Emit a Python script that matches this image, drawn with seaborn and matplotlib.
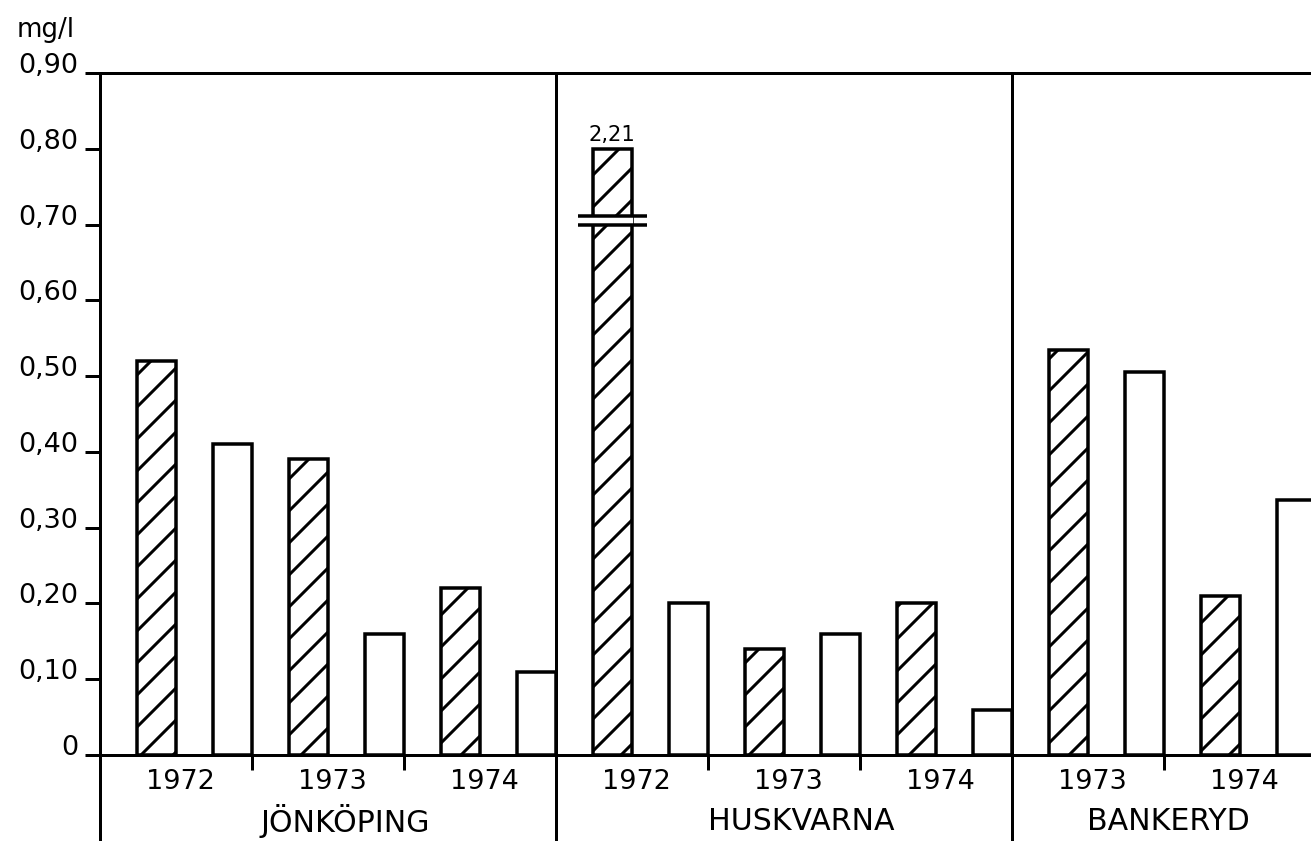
import numpy as np
import pandas as pd
import matplotlib
matplotlib.use("Agg")
import matplotlib.pyplot as plt
import seaborn as sns

# ---------------- data ----------------
towns = ["JÖNKÖPING", "HUSKVARNA", "BANKERYD"]
town_years = [["1972", "1973", "1974"], ["1972", "1973", "1974"], ["1973", "1974"]]
hatched_vals = [[0.52, 0.39, 0.22], [2.21, 0.14, 0.20], [0.535, 0.21]]
open_vals = [[0.41, 0.16, 0.11], [0.20, 0.16, 0.06], [0.505, 0.337]]
y_ticks = [0.0, 0.1, 0.2, 0.3, 0.4, 0.5, 0.6, 0.7, 0.8, 0.9]
y_tick_labels = ["0", "0,10", "0,20", "0,30", "0,40", "0,50", "0,60", "0,70", "0,80", "0,90"]
y_unit = "mg/l"
y_top = 0.90
bar_cap = 0.80          # bars above this are drawn broken
break_band = (0.700, 0.711)

# ---------------- layout ----------------
PANEL = 6          # slots per town panel
OFFSET = 0.74      # bar centre offset inside a slot
BAR_W = 0.51
DPI = 192
W, H = 1311, 841
PX = 72.0 / DPI    # points per pixel

rows = []
for t, (town, years) in enumerate(zip(towns, town_years)):
    for k, yr in enumerate(years):
        for s, (series, vals) in enumerate([("hatched", hatched_vals), ("open", open_vals)]):
            v = vals[t][k]
            rows.append(dict(town=town, year=yr, series=series, value=v,
                             shown=min(v, bar_cap),
                             pos=t * PANEL + 2 * k + s + OFFSET))
df = pd.DataFrame(rows)

sns.set_style("ticks")
plt.rcParams["font.family"] = ["DejaVu Sans"]
plt.rcParams["hatch.linewidth"] = 3 * PX
plt.rcParams["hatch.color"] = "black"
plt.rcParams["text.color"] = "black"
plt.rcParams["ytick.color"] = "black"
plt.rcParams["ytick.labelcolor"] = "black"

fig = plt.figure(figsize=(W / DPI, H / DPI), dpi=DPI)
ax = fig.add_axes([100 / W, 1 - 755 / H, 1211 / W, 682 / H])

sns.barplot(data=df, x="pos", y="shown", hue="series", hue_order=["hatched", "open"],
            palette={"hatched": "white", "open": "white"}, saturation=1,
            native_scale=True, dodge=False, width=BAR_W, errorbar=None,
            edgecolor="black", linewidth=3.5 * PX, legend=False, ax=ax)

# hatch the first bar of every pair
for p in ax.patches:
    c = p.get_x() + p.get_width() / 2
    if int(round(c - OFFSET)) % 2 == 0:
        p.set_hatch("//")

ax.set_xlim(0, 1211 / 76)
ax.set_ylim(0, y_top)
ax.set_xlabel("")
ax.set_ylabel("")
ax.set_xticks([])
ax.set_yticks(y_ticks)
ax.set_yticklabels(y_tick_labels)
ax.tick_params(axis="y", length=15 * PX, width=3 * PX, pad=7 * PX,
               labelsize=27 * PX, direction="out", colors="black")
for lab in ax.get_yticklabels():
    lab.set_va("baseline")

for side in ["left", "top", "bottom"]:
    ax.spines[side].set_visible(True)
    ax.spines[side].set_linewidth(3 * PX)
    ax.spines[side].set_color("black")
ax.spines["right"].set_visible(False)

xt = ax.get_xaxis_transform()
lw = 3 * PX
# panel dividers running down through the label area
for t in range(len(towns)):
    x0 = t * PANEL
    ax.plot([x0, x0], [1, -0.2], transform=xt, color="black", lw=lw,
            clip_on=False, solid_capstyle="butt", zorder=5)
    years = town_years[t]
    for k in range(len(years) - 1):
        xs = x0 + 2 * (k + 1)
        ax.plot([xs, xs], [0, -15 / 682], transform=xt, color="black", lw=lw,
                clip_on=False, solid_capstyle="butt")
    ypos = [x0 + 2 * k + OFFSET + 0.32 for k in range(len(years))]
    for k, yr in enumerate(years):
        ax.text(ypos[k], -27 / 682, yr, transform=xt, ha="center", va="center",
                fontsize=27 * PX, color="black")
    cx = np.mean(ypos) + (0.17 if len(years) == 3 else 0.0)
    ax.text(cx, -66 / 682, towns[t], transform=xt, ha="center", va="center",
            fontsize=30 * PX, color="black")

# broken bar(s)
for _, r in df[df["value"] > bar_cap].iterrows():
    x = r["pos"]
    lo, hi = break_band
    ax.fill_between([x - BAR_W / 2 - 0.02, x + BAR_W / 2 + 0.02], lo, hi,
                    color="white", zorder=4, lw=0)
    for yb in (lo, hi):
        ax.plot([x - BAR_W / 2 - 0.2, x + BAR_W / 2 + 0.2], [yb, yb],
                color="black", lw=3.5 * PX, zorder=5, solid_capstyle="butt")
    ax.annotate(f"{r['value']:.2f}".replace(".", ","), (x, r["shown"]),
                xytext=(0, 4 * PX), textcoords="offset points",
                ha="center", va="bottom", fontsize=21 * PX, color="black")

fig.text(17 / W, 1 - 37 / H, y_unit, ha="left", va="baseline", fontsize=26 * PX,
         color="black")

fig.savefig("out.png", dpi=DPI)
